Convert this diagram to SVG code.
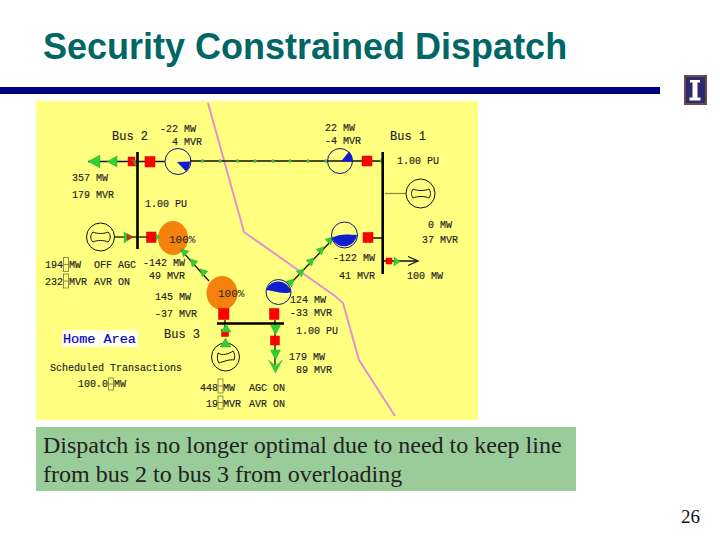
<svg xmlns="http://www.w3.org/2000/svg" width="720" height="540" viewBox="0 0 720 540">
<style>
.t{font-family:"Liberation Mono",monospace;font-size:10px;fill:#222;stroke:#222;stroke-width:.15}
.b{font-size:12px}
.l{fill:none;stroke:#111;stroke-width:1.300}
.bus{fill:none;stroke:#000;stroke-width:2.600}
.r{fill:#f00;stroke:#d00;stroke-width:.5}
.g{fill:#2ed12e;stroke:#3a9a3a;stroke-width:.4}
.c{fill:none;stroke:#12128a;stroke-width:1}
.f{fill:#0f1fd0}
.o{fill:#f5820f}
.gen{fill:none;stroke:#111;stroke-width:1}
.p{font-family:"Liberation Mono",monospace;font-size:11px;fill:#222}
.s{fill:none;stroke:#777744;stroke-width:.8}
</style>
<defs><path id="tri" class="g" d="M0 -4.500L4 3H-4z"/></defs>
<rect width="720" height="540" fill="#fff"/>
<text x="43" y="59" font-family="Liberation Sans,Arial,sans-serif" font-weight="bold" font-size="36" fill="#006666">Security Constrained Dispatch</text>
<rect x="0" y="87" width="660" height="7" fill="#000080"/>
<g id="logo"><rect x="685" y="76" width="21" height="28" fill="#2d2a6e" stroke="#6b4a4a" stroke-width="2"/><path d="M690 80h10v2.500h-2.500v15h3v3h-11v-3h3v-15h-2.500z" fill="#fff"/></g>
<rect x="36" y="101" width="442" height="319" fill="#ffff80"/>
<polyline points="208,103 244,232 335,296 343,303 359,360 395,416" fill="none" stroke="#e58fd0" stroke-width="2"/>
<g id="flow-2-3"><ellipse class="o" cx="173" cy="238" rx="15" ry="17"/><rect class="r" x="146.500" y="232" width="9.500" height="10.500"/><path class="g" d="M156 234l4 3-4 3z"/><text class="p" x="169" y="243">100%</text><text class="t" x="143" y="266">-142 MW</text><text class="t" x="149" y="279">49 MVR</text></g>
<g id="flow-3-2"><ellipse class="o" cx="222" cy="293" rx="15.500" ry="17"/><rect class="r" x="218.500" y="308.500" width="10.500" height="11"/><text class="p" x="218" y="297">100%</text><text class="t" x="155" y="300">145 MW</text><text class="t" x="155" y="317">-37 MVR</text></g>
<g id="connectors">
<path class="l" d="M88 161.500H165M190 161H382"/>
<path class="l" d="M115 237H147"/>
<path class="l" d="M385 193.500H406" style="stroke:#998844"/>
<path class="l" d="M383 238H373M383 261H418"/>
<path class="l" d="M181 250L209 281"/>
<path class="l" d="M333 239L290 284"/>
<path class="l" d="M275 320V336M275 345V365M225 320V330"/>
<path class="g" d="M88 161.500L100 155V168zM107 161.500L117 156V167z"/>
<path class="r" d="M128 157h7v9h-7z"/>
<path class="g" d="M132 159L136 162V167z" style="fill:#7a9a3a"/>
<circle class="g" cx="202.500" cy="161" r="1.500"/><circle class="g" cx="220" cy="161" r="1.500"/><circle class="g" cx="237.500" cy="161" r="1.500"/><circle class="g" cx="255" cy="161" r="1.500"/><circle class="g" cx="273" cy="161" r="1.500"/><circle class="g" cx="290" cy="161" r="1.500"/><circle class="g" cx="308" cy="161" r="1.500"/><circle class="g" cx="326" cy="161" r="1.500"/><circle class="g" cx="381" cy="161" r="1.500"/>
<path class="g" d="M124 232V243L133 237z"/>
<path class="r" d="M127 234l6 3-6 3z" style="fill:#c8321e"/>
<rect class="r" x="386" y="258" width="6" height="6"/>
<path class="g" d="M394 257V266L400 261.500z"/>
<path class="l" d="M408 256.500L418 261L408 265.500"/>
<use href="#tri" transform="translate(184 252) rotate(-45)"/>
<use href="#tri" transform="translate(193 262) rotate(-45)"/>
<use href="#tri" transform="translate(203 272) rotate(-45)"/>
<use href="#tri" transform="translate(330 240) rotate(45)"/>
<use href="#tri" transform="translate(321 250) rotate(45)"/>
<use href="#tri" transform="translate(311 261) rotate(45)"/>
<use href="#tri" transform="translate(301 272) rotate(45)"/>
<use href="#tri" transform="translate(291 282) rotate(45)"/>
</g>
<g id="bus-2"><path class="bus" d="M137.500 152V249"/><text class="t b" x="112" y="140">Bus 2</text><text class="t" x="72" y="181">357 MW</text><text class="t" x="72" y="198">179 MVR</text><text class="t" x="145" y="207">1.00 PU</text></g>
<g id="bus-1"><path class="bus" d="M382.700 152V274"/><text class="t b" x="390" y="140">Bus 1</text><text class="t" x="397" y="164">1.00 PU</text><text class="t" x="428" y="228">0 MW</text><text class="t" x="422" y="243">37 MVR</text><text class="t" x="407" y="279">100 MW</text></g>
<g id="bus-3"><path class="bus" d="M217 323.500H284"/><text class="t b" x="164" y="338">Bus 3</text><text class="t" x="296" y="334">1.00 PU</text></g>
<g id="flow-2-1a"><rect class="r" x="145" y="156.500" width="10" height="10.500"/><circle class="c" cx="178" cy="161.500" r="13"/><path class="f" d="M177 162L190 161.500A13 13 0 0 1 186 171.500z"/><text class="t" x="160" y="132">-22 MW</text><text class="t" x="172" y="145">4 MVR</text></g>
<g id="flow-2-1b"><circle class="c" cx="340" cy="161" r="12.500"/><path class="f" d="M341 161.500L349 151.500A13 13 0 0 1 352.500 161.500z"/><rect class="r" x="362" y="156" width="10" height="10"/><text class="t" x="325" y="131">22 MW</text><text class="t" x="325" y="144">-4 MVR</text></g>
<g id="gen-2"><circle class="gen" cx="100.500" cy="237" r="14"/><path class="gen" d="M93 232c4 2 11 2 15 0c3 3 3 7 0 10c-4-2-11-2-15 0c-3-3-3-7 0-10z"/><text class="t" x="45" y="268">194</text><rect class="s" x="63.500" y="257.500" width="5" height="14"/><path class="s" d="M63.500 264.500h5"/><text class="t" x="69" y="268">MW</text><text class="t" x="94" y="268">OFF AGC</text><text class="t" x="45" y="285">232</text><rect class="s" x="63.500" y="274" width="5" height="14"/><path class="s" d="M63.500 281h5"/><text class="t" x="69" y="285">MVR</text><text class="t" x="94" y="285">AVR ON</text></g>
<g id="gen-1"><circle class="gen" cx="420.500" cy="193.500" r="14.500"/><path class="gen" d="M413 189c4 2 12 2 16 0c2 3 2 6 0 9c-4-2-12-2-16 0c-2-3-2-6 0-9z"/></g>
<g id="gen-3"><circle class="gen" cx="225.500" cy="357" r="14"/><path class="gen" d="M218 353c4 3 11 1 15-2c2 3 2 6 1 9c-4-1-12 2-15 3c-2-3-2-6-1-10z"/><path class="g" d="M225.500 338l5.500 9h-11z"/><rect class="r" x="221.500" y="329.500" width="7" height="7"/><path class="g" d="M226 324l5 8h-10z"/><text class="t" x="200" y="391">448</text><rect class="s" x="218" y="379" width="5" height="14"/><path class="s" d="M218 386h5"/><text class="t" x="223" y="391">MW</text><text class="t" x="249" y="391">AGC ON</text><text class="t" x="206" y="407">19</text><rect class="s" x="218" y="396" width="5" height="13"/><path class="s" d="M218 402.500h5"/><text class="t" x="223" y="407">MVR</text><text class="t" x="249" y="407">AVR ON</text></g>
<g id="load-3"><rect class="r" x="270.500" y="336" width="9" height="9"/><path class="g" d="M270.500 325h10l-5 10zM270.500 350h10l-5 10zM268.500 360l7 13l7-13l-7 6z"/><text class="t" x="289" y="360">179 MW</text><text class="t" x="296" y="373">89 MVR</text></g>
<g id="flow-3-1"><circle class="c" cx="278.500" cy="292" r="12.500"/><path class="f" d="M266 290A13 13 0 0 1 291 292C285 295 274 291 266 290z"/><rect class="r" x="269.500" y="308.500" width="9.500" height="11"/><text class="t" x="290" y="303">124 MW</text><text class="t" x="290" y="316">-33 MVR</text></g>
<g id="flow-1-3"><circle class="c" cx="344.500" cy="235" r="13"/><path class="f" d="M332 238C338 234 345 234 357 235A13 13 0 0 1 332 238z"/><rect class="r" x="363" y="232.500" width="10" height="10"/><text class="t" x="333" y="261">-122 MW</text><text class="t" x="339" y="279">41 MVR</text></g>
<g id="home"><rect x="62" y="330" width="76" height="17" fill="#fff" fill-opacity=".85"/><text x="63" y="343" font-family="Liberation Mono,monospace" font-size="13.500" fill="#0000d0" stroke="#0000d0" stroke-width=".2">Home Area</text><text class="t" x="50" y="371">Scheduled Transactions</text><text class="t" x="78" y="387">100.0</text><rect class="s" x="108.500" y="378" width="5" height="12"/><path class="s" d="M108.500 384h5"/><text class="t" x="114" y="387">MW</text></g>
<g id="caption"><rect x="36" y="427" width="540" height="64" fill="#99cc99"/><text font-family="Liberation Serif,Times New Roman,serif" font-size="24" fill="#222"><tspan x="43" y="453">Dispatch is no longer optimal due to need to keep line</tspan><tspan x="43" y="482">from bus 2 to bus 3 from overloading</tspan></text></g>
<text x="681" y="523" font-family="Liberation Serif,Times New Roman,serif" font-size="19" fill="#111">26</text>
</svg>
